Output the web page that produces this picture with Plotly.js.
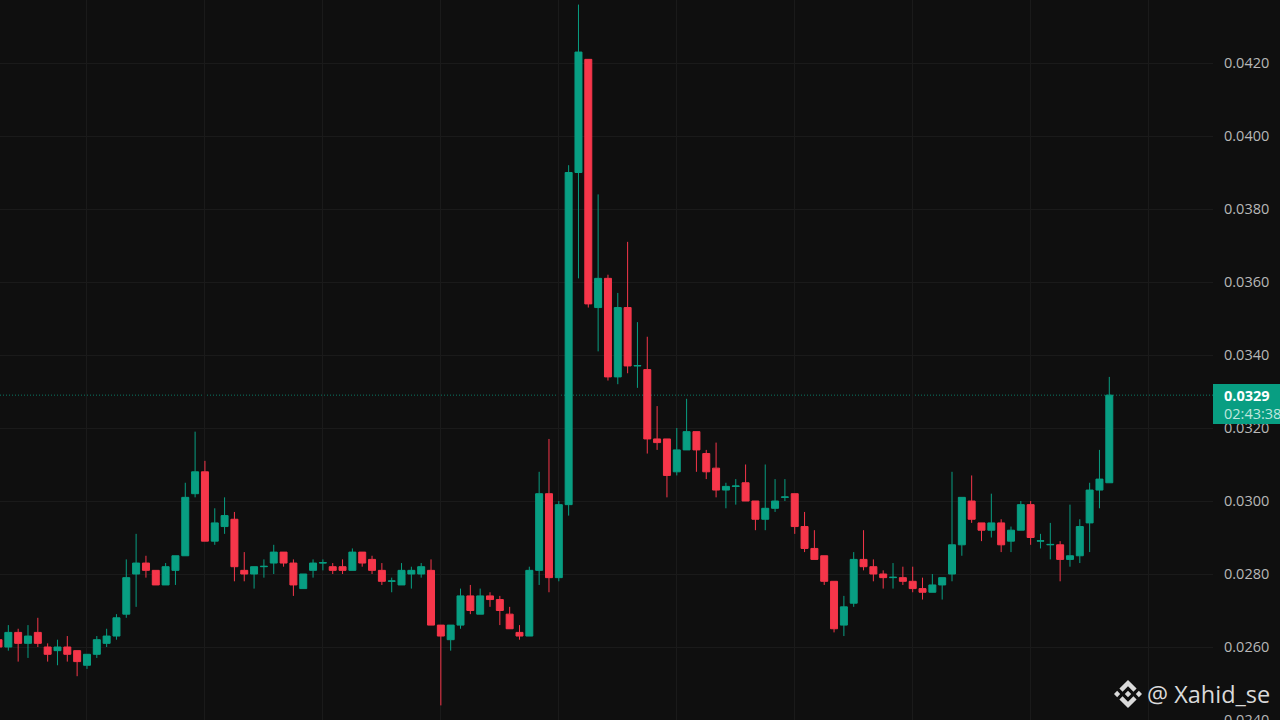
<!DOCTYPE html>
<html>
<head>
<meta charset="utf-8">
<script src="https://cdn.plot.ly/plotly-3.0.1.min.js"></script>
<style>html,body{margin:0;padding:0;background:#0f0f0f;overflow:hidden}#chart{width:1280px;height:720px}</style>
</head>
<body>
<div id="chart"></div>
<script>
const bars = Array.from({length:114},(_,i)=>i);
const open = [.0262,.0260,.0264,.0261,.0264,.0260,.0259,.0260,.0259,.0255,.0258,.0261,.0263,.0269,.0280,.0283,.0281,.0277,.0281,.0285,
.0302,.0308,.0289,.0293,.0295,.0281,.0280,.0282,.0283,.0286,.0283,.0276,.0281,.0283,.0282,.0282,.0281,.0286,.0284,.0281,
.0278,.0277,.0280,.0280,.0281,.0266,.0262,.0266,.0274,.0269,.0274,.0273,.0269,.0264,.0263,.0281,.0302,.0279,.0299,.0390,
.0421,.0353,.0361,.0334,.0353,.0337,.0336,.0317,.0317,.0308,.0314,.0319,.0313,.0309,.0303,.0304,.0305,.0300,.0295,.0298,
.0301,.0302,.0293,.0287,.0285,.0278,.0266,.0272,.0284,.0282,.0280,.0279,.0279,.0278,.0276,.0275,.0277,.0280,.0288,.0300,
.0294,.0292,.0294,.0289,.0292,.0299,.0289,.0288,.0288,.0284,.0285,.0294,.0303,.0305];
const high = [.0262,.0266,.0265,.0266,.0268,.0261,.0262,.0263,.0259,.0258,.0263,.0265,.0269,.0284,.0291,.0285,.0281,.0283,.0285,.0305,
.0319,.0311,.0298,.0301,.0297,.0286,.0282,.0284,.0288,.0286,.0284,.0280,.0284,.0284,.0283,.0284,.0287,.0286,.0285,.0283,
.0279,.0283,.0282,.0283,.0284,.0266,.0266,.0276,.0277,.0276,.0275,.0274,.0271,.0266,.0282,.0308,.0317,.0300,.0392,.0436,
.0421,.0384,.0362,.0357,.0371,.0349,.0345,.0326,.0317,.0320,.0328,.0319,.0314,.0316,.0305,.0306,.0310,.0300,.0310,.0306,
.0306,.0302,.0297,.0292,.0285,.0278,.0274,.0286,.0292,.0284,.0281,.0283,.0282,.0282,.0279,.0280,.0279,.0308,.0301,.0307,
.0294,.0302,.0295,.0293,.0300,.0300,.0291,.0294,.0289,.0299,.0295,.0305,.0314,.0334];
const low = [.0260,.0259,.0256,.0257,.0260,.0256,.0255,.0256,.0252,.0254,.0257,.0260,.0262,.0268,.0271,.0279,.0277,.0277,.0277,.0285,
.0301,.0289,.0288,.0291,.0278,.0278,.0276,.0279,.0280,.0282,.0274,.0276,.0279,.0281,.0280,.0280,.0281,.0282,.0280,.0277,
.0275,.0277,.0276,.0279,.0266,.0244,.0259,.0265,.0269,.0269,.0271,.0266,.0265,.0262,.0263,.0277,.0275,.0278,.0296,.0361,
.0353,.0341,.0333,.0332,.0335,.0331,.0313,.0314,.0301,.0307,.0314,.0308,.0306,.0301,.0298,.0299,.0300,.0292,.0292,.0297,
.0300,.0291,.0286,.0284,.0277,.0264,.0263,.0271,.0281,.0278,.0276,.0276,.0277,.0275,.0273,.0275,.0273,.0278,.0285,.0294,
.0289,.0290,.0286,.0286,.0292,.0288,.0287,.0284,.0278,.0282,.0283,.0286,.0298,.0305];
const close = [.0260,.0264,.0261,.0263,.0261,.0258,.0260,.0258,.0256,.0258,.0262,.0263,.0268,.0279,.0283,.0281,.0277,.0282,.0285,.0301,
.0308,.0289,.0294,.0296,.0282,.0280,.0282,.02821,.0286,.0283,.0277,.0280,.0283,.02831,.0281,.0281,.0286,.0283,.0281,.0278,
.02781,.0281,.0281,.0282,.0266,.0263,.0266,.0274,.0270,.0274,.0273,.0270,.0265,.0263,.0281,.0302,.0279,.0299,.0390,.0423,
.0354,.0361,.0334,.0353,.0337,.03371,.0317,.0316,.0307,.0314,.0319,.0314,.0308,.0303,.0304,.03041,.0300,.0295,.0298,.0300,
.03011,.0293,.0287,.0284,.0278,.0265,.0271,.0284,.0282,.0280,.0279,.02791,.0278,.0276,.0275,.0277,.0279,.0288,.0301,.0295,
.0292,.0294,.0288,.0292,.0299,.0290,.02891,.02881,.0284,.0285,.0293,.0303,.0306,.0329];
const priceTicks = [.0240,.0260,.0280,.0300,.0320,.0340,.0360,.0380,.0400,.0420];
const timeGrid = [9,21,33,45,57,69,81,93,105,117];
const lastPrice = close[close.length-1];
const lastPriceLabel = "0.0329";
const countdownLabel = "02:43:38";
const handle = "@ Xahid_se";

const UP = "#089E82", DOWN = "#F6364A", BG = "#0F0F0F", GRID = "#1A1A1A";

const logoPath =
 "M-5.43,-2.23L0,-7.67L5.44,-2.23L8.6,-5.4L0,-14L-8.6,-5.4Z "+
 "M-5.43,2.23L0,7.67L5.44,2.23L8.6,5.4L0,14L-8.6,5.4Z "+
 "M-14,0L-10.84,-3.17L-7.83,0L-10.84,3.17Z "+
 "M14,0L10.84,-3.17L7.83,0L10.84,3.17Z "+
 "M-3.2,0L0,-3.2L3.2,0L0,3.2Z";

const W = 1213, H = 720;
const trace = {
  type:"candlestick", x:bars, open:open, high:high, low:low, close:close,
  whiskerwidth:0,
  increasing:{line:{color:UP,width:1},fillcolor:UP},
  decreasing:{line:{color:DOWN,width:1},fillcolor:DOWN},
  hoverinfo:"skip", showlegend:false
};
const layout = {
  width:1280, height:720, autosize:false,
  boxgap:0.29, boxgroupgap:0,
  margin:{l:0,r:67,t:0,b:0,pad:0},
  paper_bgcolor:BG, plot_bgcolor:BG, showlegend:false,
  xaxis:{range:[0.1526,123.55], rangeslider:{visible:false}, tickvals:timeGrid, showticklabels:false,
         showgrid:true, gridcolor:GRID, gridwidth:1, zeroline:false, showline:false, ticks:""},
  yaxis:{side:"right", range:[0.024,0.043726], tickvals:priceTicks, tickformat:".4f",
         showgrid:true, gridcolor:GRID, gridwidth:1, zeroline:false, showline:false, ticks:"",
         ticklabelstandoff:10, ticklabeloverflow:"allow", automargin:false,
         tickfont:{family:"'Open Sans',sans-serif",size:14.5,color:"#B8B8B8"}},
  shapes:[
    {type:"line",xref:"paper",yref:"y",x0:0,x1:1,y0:lastPrice,y1:lastPrice,layer:"below",
     line:{color:UP,width:1,dash:"1px,2px"},opacity:0.75},
    {type:"rect",xref:"paper",yref:"paper",x0:1,x1:1280/W,y0:1-424/H,y1:1-384/H,layer:"above",
     fillcolor:UP,line:{width:0}},
    {type:"path",xref:"paper",yref:"paper",xsizemode:"pixel",ysizemode:"pixel",
     xanchor:1128/W,yanchor:1-694/H,path:logoPath,fillcolor:"#DADADA",line:{width:0},layer:"above"}
  ],
  annotations:[
    {xref:"paper",yref:"paper",x:1222/W,y:1-395.5/H,xanchor:"left",yanchor:"middle",showarrow:false,
     text:"<b>"+lastPriceLabel+"</b>",font:{family:"'Open Sans',sans-serif",size:14.5,color:"#FFFFFF"}},
    {xref:"paper",yref:"paper",x:1222/W,y:1-413.5/H,xanchor:"left",yanchor:"middle",showarrow:false,
     text:countdownLabel,font:{family:"'Open Sans',sans-serif",size:14.5,color:"#BFE6DE"}},
    {xref:"paper",yref:"paper",x:1145/W,y:1-694/H,xanchor:"left",yanchor:"middle",showarrow:false,
     text:handle,font:{family:"'Open Sans',sans-serif",size:23.5,color:"#DADADA"}}
  ]
};
Plotly.newPlot("chart",[trace],layout,{displayModeBar:false,staticPlot:true});
</script>
</body>
</html>
